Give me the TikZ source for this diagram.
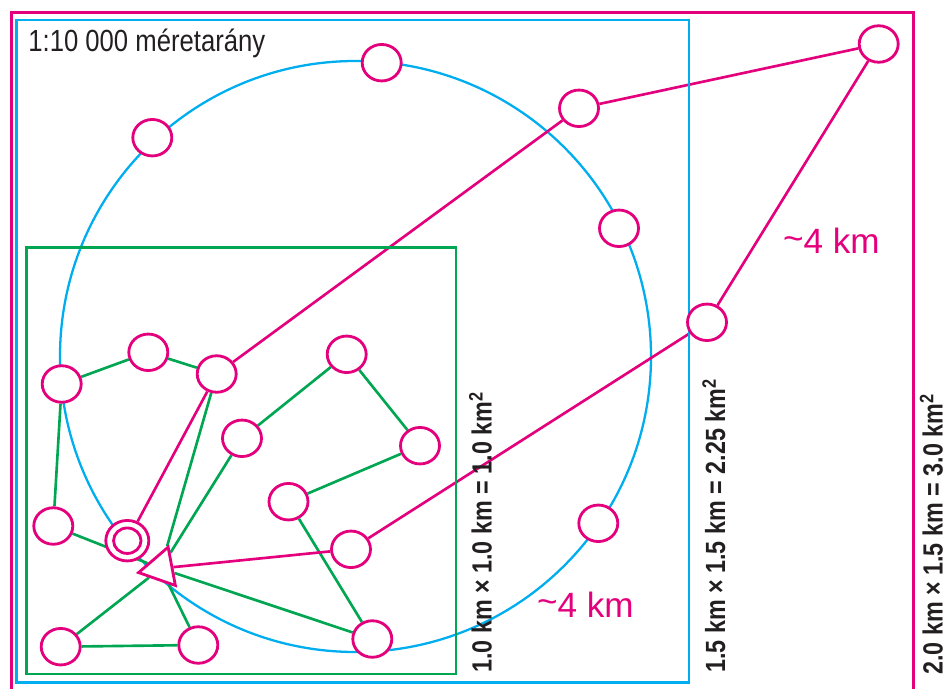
\documentclass[tikz,border=0pt]{standalone}
\usepackage{fontspec}
\setmainfont{Liberation Sans}
\newfontfamily\narrowfont[FakeStretch=0.84]{Liberation Sans}
\usetikzlibrary{shapes.geometric,backgrounds}
\definecolor{mag}{RGB}{228,0,124}
\definecolor{cyn}{RGB}{0,174,239}
\definecolor{grn}{RGB}{0,166,81}
\definecolor{ink}{RGB}{35,31,32}

\begin{document}
\begin{tikzpicture}[x=0.02cm, y=-0.02cm,
      site/.style={ellipse, draw=mag, line width=1.6pt, fill=white, inner sep=0pt, minimum width=0.78cm, minimum height=0.73cm},
      net/.style={grn, line width=1.5pt},
      tie/.style={mag, line width=1.5pt},
      frame/.style={line width=1.6pt},
      size/.style={font=\narrowfont\bfseries\fontsize{15.8}{16}\selectfont, text=ink, rotate=90, anchor=base west, inner sep=0pt},
      dist/.style={font=\fontsize{20}{22}\selectfont, text=mag, anchor=base west, inner sep=0pt}
    ]
    \useasboundingbox (0,0) rectangle (946,689);

    % frames
    \draw[frame, mag] (11.5,689) -- (11.5,12.7) -- (913.5,12.7) -- (913.5,689);
    \draw[frame, cyn] (16.7,20) rectangle (689,682.3);
    \draw[frame, grn] (26.7,247.7) rectangle (456,674);

    % scale
    \node[anchor=base west, inner sep=0pt, text=ink, font=\narrowfont\fontsize{17.4}{18}\selectfont] (scale) at (28,52) {1:10 000 méretarány};

    % sites on the ring
    \node[site] (top) at (381.7,62.7) {};
    \node[site] (nw) at (152.3,137.7) {};
    \node[site] (relay) at (579,108.3) {};
    \node[site] (far) at (878.7,44) {};
    \node[site] (ne) at (619,228.3) {};
    \node[site] (east) at (707,322.3) {};
    \node[site] (se) at (598.3,523.3) {};

    % sites in the square
    \node[site] (w) at (61.7,384) {};
    \node[site] (a) at (148.3,352.3) {};
    \node[site] (b) at (216.7,374) {};
    \node[site] (c) at (346.7,354.3) {};
    \node[site] (d) at (242,438.3) {};
    \node[site] (e) at (420,445.7) {};
    \node[site] (f) at (288.5,501.7) {};
    \node[site] (g) at (53.3,526) {};
    \node[site] (h) at (351,549.3) {};
    \node[site] (i) at (60.7,646.7) {};
    \node[site] (j) at (198.3,645) {};
    \node[site] (k) at (372.3,639) {};

    % home and base
    \node[site, minimum width=0.86cm, minimum height=0.81cm] (home) at (127.3,540.7) {};
    \node[site, minimum width=0.55cm, minimum height=0.51cm] (homein) at (home) {};
    \node[regular polygon, regular polygon sides=3, draw=mag, line width=1.6pt, fill=white, inner sep=0pt, minimum size=0.9cm, rotate=-19.3] (base) at (160.7,568.4) {};

    % links
    \begin{pgfonlayer}{background}
      \draw[cyn, line width=1.3pt] (355.5,356.5) circle[radius=295.5];
      \draw[net] (w) -- (a) -- (b) -- (base);
      \draw[net] (w) -- (g) -- (base);
      \draw[net] (base) -- (d) -- (c) -- (e) -- (f) -- (k) -- (base);
      \draw[net] (base) -- (i) -- (j) -- (base);
      \draw[tie] (home) -- (b) -- (relay) -- (far) -- (east) -- (h) -- (base);
    \end{pgfonlayer}

    % sizes
    \node[size] (sq1) at (491.7,673) {1.0 km × 1.0 km = 1.0 km\textsuperscript{2}};
    \node[size] (sq2) at (725,673) {1.5 km × 1.5 km = 2.25 km\textsuperscript{2}};
    \node[size] (sq3) at (942.5,675) {2.0 km × 1.5 km = 3.0 km\textsuperscript{2}};
    \node[dist] (d1) at (782.7,254) {\raisebox{0.1em}{\textasciitilde}4 km};
    \node[dist] (d2) at (536.7,617.3) {\raisebox{0.1em}{\textasciitilde}4 km};
  \end{tikzpicture}
\end{document}
